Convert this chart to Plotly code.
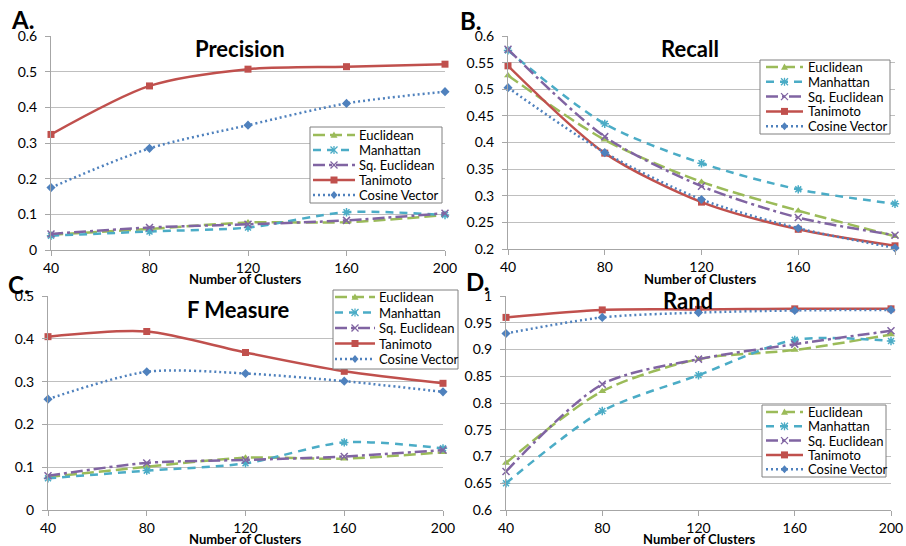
import plotly.graph_objects as go

W, H = 906, 546

clusters = [40, 80, 120, 160, 200]
series_names = ["Euclidean", "Manhattan", "Sq. Euclidean", "Tanimoto", "Cosine Vector"]

prec_euc = [0.043, 0.059, 0.077, 0.078, 0.098]
prec_man = [0.040, 0.052, 0.063, 0.106, 0.098]
prec_sq = [0.045, 0.063, 0.072, 0.083, 0.103]
prec_tan = [0.324, 0.460, 0.507, 0.514, 0.521]
prec_cos = [0.175, 0.285, 0.350, 0.411, 0.444]

rec_euc = [0.526, 0.405, 0.326, 0.272, 0.224]
rec_man = [0.573, 0.435, 0.361, 0.312, 0.285]
rec_sq = [0.575, 0.411, 0.318, 0.259, 0.226]
rec_tan = [0.544, 0.380, 0.288, 0.237, 0.206]
rec_cos = [0.503, 0.381, 0.293, 0.239, 0.202]

f_euc = [0.077, 0.101, 0.122, 0.120, 0.135]
f_man = [0.074, 0.092, 0.109, 0.158, 0.144]
f_sq = [0.080, 0.110, 0.117, 0.125, 0.140]
f_tan = [0.405, 0.417, 0.368, 0.324, 0.296]
f_cos = [0.259, 0.323, 0.319, 0.301, 0.276]

rand_euc = [0.688, 0.822, 0.882, 0.899, 0.928]
rand_man = [0.650, 0.785, 0.852, 0.918, 0.916]
rand_sq = [0.672, 0.835, 0.882, 0.910, 0.935]
rand_tan = [0.960, 0.974, 0.975, 0.976, 0.976]
rand_cos = [0.930, 0.960, 0.969, 0.973, 0.974]

panel_titles = ["Precision", "Recall", "F Measure", "Rand"]
panel_letters = ["A.", "B.", "C.", "D."]
x_title = "Number of Clusters"

colors = ["#9BBB59", "#4BACC6", "#8064A2", "#C0504D", "#4F81BD"]
dashes = ["12px,5px", "8px,6px", "12px,4px,3px,4px", "solid", "2px,3px"]
symbols = ["triangle-up", "asterisk-open", "x-thin-open", "square", "diamond"]

panels = [
    [prec_euc, prec_man, prec_sq, prec_tan, prec_cos],
    [rec_euc, rec_man, rec_sq, rec_tan, rec_cos],
    [f_euc, f_man, f_sq, f_tan, f_cos],
    [rand_euc, rand_man, rand_sq, rand_tan, rand_cos],
]

# pixel boxes of plot areas: (left, right, top, bottom)
boxes = [(51, 445, 36, 250), (508, 895, 36, 249), (48, 443, 296, 510), (506, 891, 296, 510)]
yranges = [(0, 0.6, 0.1), (0.2, 0.6, 0.05), (0, 0.5, 0.1), (0.6, 1.0, 0.05)]
# legend boxes: (left, top, right, bottom, first_row_y, row_step, line_x0, line_x1, text_x)
legend_boxes = [
    (310, 127, 442, 203, 135, 15.0, 313, 355, 357),
    (760, 60, 890, 134, 67, 14.8, 766, 803, 806),
    (333, 290, 458, 369, 297, 15.5, 335, 375, 377),
    (762, 405, 886, 477, 412, 14.3, 766, 803, 806),
]
title_pos = [(240, 48), (690, 48), (238, 309), (688, 300)]
letter_pos = [(22, 20), (471, 21), (19, 284), (478, 281)]
xtitle_pos = [(245, 279), (700, 279), (245, 539), (699, 539)]

FONT = "Lato, Carlito, Liberation Sans, sans-serif"
GRID = "#BFBFBF"
AXIS = "#A6A6A6"


def px(x, y):
    """pixel -> paper fraction"""
    return x / W, 1 - y / H


def path(points, close=True):
    s = ""
    for k, (x, y) in enumerate(points):
        a, b = px(x, y)
        s += ("M" if k == 0 else "L") + "%.5f,%.5f " % (a, b)
    return s + ("Z" if close else "")


def marker_shapes(kind, cx, cy, color):
    r = 3.5
    out = []
    if kind == "triangle-up":
        out.append(dict(type="path", path=path([(cx - r, cy + r * 0.8), (cx + r, cy + r * 0.8), (cx, cy - r)]),
                        fillcolor=color, line=dict(width=0)))
    elif kind == "square":
        out.append(dict(type="path", path=path([(cx - r, cy - r), (cx + r, cy - r), (cx + r, cy + r), (cx - r, cy + r)]),
                        fillcolor=color, line=dict(width=0)))
    elif kind == "diamond":
        out.append(dict(type="path", path=path([(cx, cy - r - 0.5), (cx + r, cy), (cx, cy + r + 0.5), (cx - r, cy)]),
                        fillcolor=color, line=dict(width=0)))
    else:
        segs = [((cx - r, cy - r), (cx + r, cy + r)), ((cx - r, cy + r), (cx + r, cy - r))]
        if kind == "asterisk-open":
            segs.append(((cx, cy - r - 0.5), (cx, cy + r + 0.5)))
        for p0, p1 in segs:
            out.append(dict(type="path", path=path([p0, p1], close=False), line=dict(color=color, width=1.3)))
    for s in out:
        s.update(xref="paper", yref="paper", layer="above")
    return out


fig = go.Figure()
layout = dict(
    width=W, height=H, margin=dict(l=0, r=0, t=0, b=0, autoexpand=False),
    paper_bgcolor="white", plot_bgcolor="white", showlegend=False,
    font=dict(family=FONT, size=14, color="#000000"),
    annotations=[], shapes=[],
)

for i, data in enumerate(panels):
    n = "" if i == 0 else str(i + 1)
    xa, ya = "x" + n, "y" + n
    for j, vals in enumerate(data):
        fig.add_trace(go.Scatter(
            x=clusters, y=vals, name=series_names[j], mode="lines+markers",
            xaxis=xa, yaxis=ya, cliponaxis=False, showlegend=False,
            line=dict(color=colors[j], width=2.5, dash=dashes[j], shape="spline", smoothing=0.8),
            marker=dict(symbol=symbols[j], size=7, color=colors[j],
                        line=dict(color=colors[j], width=1.5 if j in (1, 2) else 0)),
        ))
    l, r, t, b = boxes[i]
    y0, y1, dt = yranges[i]
    xl, yb = px(l, b)
    xr, yt = px(r, t)
    layout["xaxis" + n] = dict(
        domain=[xl, xr], anchor=ya, range=[40, 200], tick0=40, dtick=40,
        showgrid=False, zeroline=False, showline=True, linecolor=AXIS, linewidth=1,
        ticks="outside", ticklen=5, tickcolor=AXIS, tickfont=dict(size=14),
    )
    layout["yaxis" + n] = dict(
        domain=[yb, yt], anchor=xa, range=[y0, y1], tick0=y0, dtick=dt,
        showgrid=True, gridcolor=GRID, gridwidth=1, zeroline=False,
        showline=True, linecolor=AXIS, linewidth=1,
        ticks="outside", ticklen=5, tickcolor=AXIS, tickfont=dict(size=14),
        ticklabelstandoff=5,
    )

    # legend box (drawn as layout shapes + text annotations)
    bl, bt, br, bb, ry0, rstep, lx0, lx1, tx0 = legend_boxes[i]
    a0, b0 = px(bl, bb)
    a1, b1 = px(br, bt)
    layout["shapes"].append(dict(type="rect", xref="paper", yref="paper", x0=a0, y0=b0, x1=a1, y1=b1,
                                 fillcolor="white", line=dict(color="#808080", width=1), layer="above"))
    for j, name in enumerate(series_names):
        ry = ry0 + j * rstep
        p0 = px(lx0, ry)
        p1 = px(lx1, ry)
        layout["shapes"].append(dict(type="line", xref="paper", yref="paper", x0=p0[0], y0=p0[1],
                                     x1=p1[0], y1=p1[1], layer="above",
                                     line=dict(color=colors[j], width=2.5, dash=dashes[j])))
        layout["shapes"].extend(marker_shapes(symbols[j], (lx0 + lx1) / 2, ry, colors[j]))
        tx, ty = px(tx0, ry)
        layout["annotations"].append(dict(
            text=name, x=tx, y=ty, xref="paper", yref="paper", showarrow=False,
            xanchor="left", yanchor="middle", font=dict(family=FONT, size=13, color="#000000")))

    tx, ty = px(*title_pos[i])
    layout["annotations"].append(dict(
        text="<b>%s</b>" % panel_titles[i], x=tx, y=ty, xref="paper", yref="paper",
        showarrow=False, xanchor="center", yanchor="middle",
        font=dict(family=FONT, size=22, color="#000000")))
    ax_, ay_ = px(*letter_pos[i])
    layout["annotations"].append(dict(
        text="<b>%s</b>" % panel_letters[i], x=ax_, y=ay_, xref="paper", yref="paper",
        showarrow=False, xanchor="center", yanchor="middle",
        font=dict(family=FONT, size=24, color="#000000")))
    bx, by = px(*xtitle_pos[i])
    layout["annotations"].append(dict(
        text="<b>%s</b>" % x_title, x=bx, y=by, xref="paper", yref="paper",
        showarrow=False, xanchor="center", yanchor="middle",
        font=dict(family=FONT, size=13, color="#000000")))

fig.update_layout(**layout)
fig.write_html(
    "out.html",
    config={"displayModeBar": False},
    post_script="document.body.style.margin='0';document.body.style.overflow='hidden';",
)
